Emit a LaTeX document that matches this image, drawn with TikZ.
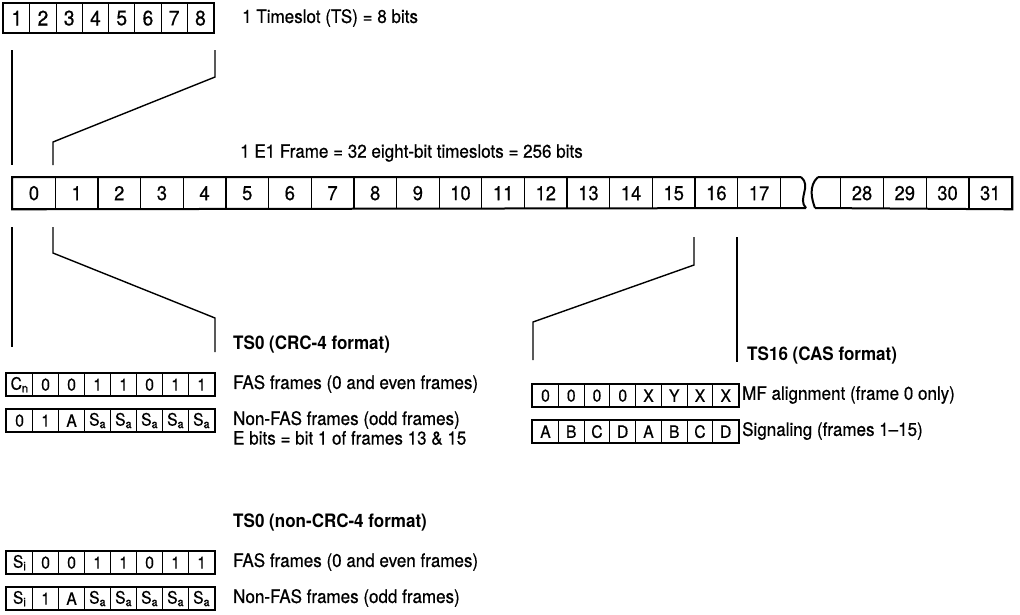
\documentclass[tikz,border=0pt]{standalone}
\usepackage{fontspec}
\setmainfont{TeX Gyre Heros}[FakeStretch=0.92,UprightFeatures={FakeBold=0.5}]
\begin{document}
\begin{tikzpicture}[x=1pt,y=-1pt,
  conn/.style={line width=1.4pt},
  txt/.style={anchor=west,inner sep=0pt,font=\fontsize{18.5}{20}\selectfont},
  btxt/.style={anchor=west,inner sep=0pt,font=\bfseries\fontsize{18.5}{20}\selectfont},
  regcell/.style={draw,line width=1.2pt,minimum width=26.25pt,minimum height=29pt,inner sep=0pt,anchor=north west,font=\fontsize{21}{21}\selectfont},
  framecell/.style={draw,line width=1.3pt,minimum width=42.65pt,minimum height=31pt,inner sep=0pt,anchor=north west,font=\fontsize{20}{20}\selectfont},
  framecellb/.style={framecell,minimum width=42.75pt},
  bitcell/.style={draw,line width=1.2pt,minimum width=26pt,minimum height=22pt,inner sep=0pt,anchor=north west,font=\fontsize{17}{17}\selectfont},
  bitcellr/.style={bitcell,minimum width=25.75pt},
  outer/.style={line width=2.4pt},
  outerf/.style={line width=2pt}]
\useasboundingbox (0,0) rectangle (1020,614);

% top register
\foreach \i in {1,...,8}
  \node[regcell] (t\i) at ({3+(\i-1)*26.25},3) {\i};
\draw[outer] (t1.north west) rectangle (t8.south east);
\node[txt] (tsl) at (242,18) {1 Timeslot (TS) = 8 bits};

% connectors from register to frame
\coordinate (a1) at (12,50);
\coordinate (a2) at (12,165);
\coordinate (b1) at (215,50);
\coordinate (b2) at (215,77);
\coordinate (b3) at (53,142);
\coordinate (b4) at (53,165);
\draw[conn] (a1) -- (a2);
\draw[conn] (b1) -- (b2) -- (b3) -- (b4);

\node[txt] (e1) at (240,153) {1 E1 Frame = 32 eight-bit timeslots = 256 bits};

% frame
\foreach \i in {0,...,17}
  \node[framecell] (f\i) at ({12+\i*42.65},177) {\i};
\foreach \i in {28,...,31}
  \node[framecellb] (f\i) at ({840+(\i-28)*42.75},177) {\i};
\coordinate (w1t) at (801,177);
\coordinate (w1b) at (806,208);
\coordinate (w2t) at (818,177);
\coordinate (w2b) at (815,208);
\draw[outerf] (w1t) -- (f0.north west) -- (f0.south west) -- (w1b);
\draw[outerf] (w1t) .. controls (812,186) and (797,199) .. (w1b);
\draw[outerf] (w2t) .. controls (808,186) and (812,200) .. (w2b);
\draw[outerf] (w2t) -- (f31.north east) -- (f31.south east) -- (w2b);

% connectors from frame to TS0
\coordinate (c1) at (12,227);
\coordinate (c2) at (12,347);
\coordinate (d1) at (53,227);
\coordinate (d2) at (53,253);
\coordinate (d3) at (215,318);
\coordinate (d4) at (215,352);
\draw[conn] (c1) -- (c2);
\draw[conn] (d1) -- (d2) -- (d3) -- (d4);

% connectors from frame to TS16
\coordinate (e1a) at (694,237);
\coordinate (e1b) at (694,265);
\coordinate (e1c) at (533,322);
\coordinate (e1d) at (533,360);
\coordinate (g1) at (737,237);
\coordinate (g2) at (737,362);
\draw[conn] (e1a) -- (e1b) -- (e1c) -- (e1d);
\draw[conn] (g1) -- (g2);

% TS0 CRC-4
\node[btxt] (h1) at (233,344) {TS0 (CRC-4 format)};
\foreach \v [count=\i] in {C\textsubscript{n},0,0,1,1,0,1,1}
  \node[bitcell] (p\i) at ({6+(\i-1)*26},373) {\v};
\draw[outer] (p1.north west) rectangle (p8.south east);
\node[txt] (fas1) at (233,384) {FAS frames (0 and even frames)};

\foreach \v [count=\i] in {0,1,A,S\textsubscript{a},S\textsubscript{a},S\textsubscript{a},S\textsubscript{a},S\textsubscript{a}}
  \node[bitcell] (q\i) at ({6+(\i-1)*26},409) {\v};
\draw[outer] (q1.north west) rectangle (q8.south east);
\node[txt] (nfas1) at (233,420) {Non-FAS frames (odd frames)};
\node[txt] (ebits) at (233,438) {E bits = bit 1 of frames 13 \& 15};

% TS0 non-CRC-4
\node[btxt] (h2) at (233,522) {TS0 (non-CRC-4 format)};
\foreach \v [count=\i] in {S\textsubscript{i},0,0,1,1,0,1,1}
  \node[bitcell] (r\i) at ({6+(\i-1)*26},551) {\v};
\draw[outer] (r1.north west) rectangle (r8.south east);
\node[txt] (fas2) at (233,562) {FAS frames (0 and even frames)};

\foreach \v [count=\i] in {S\textsubscript{i},1,A,S\textsubscript{a},S\textsubscript{a},S\textsubscript{a},S\textsubscript{a},S\textsubscript{a}}
  \node[bitcell] (s\i) at ({6+(\i-1)*26},587) {\v};
\draw[outer] (s1.north west) rectangle (s8.south east);
\node[txt] (nfas2) at (233,598) {Non-FAS frames (odd frames)};

% TS16 CAS
\node[btxt] (h3) at (747,355) {TS16 (CAS format)};
\foreach \v [count=\i] in {0,0,0,0,X,Y,X,X}
  \node[bitcellr] (m\i) at ({532+(\i-1)*25.75},384) {\v};
\draw[outer] (m1.north west) rectangle (m8.south east);
\node[txt] (mf) at (742,395) {MF alignment (frame 0 only)};

\foreach \v [count=\i] in {A,B,C,D,A,B,C,D}
  \node[bitcellr] (n\i) at ({532+(\i-1)*25.75},420) {\v};
\draw[outer] (n1.north west) rectangle (n8.south east);
\node[txt] (sig) at (742,431) {Signaling (frames 1--15)};
\end{tikzpicture}
\end{document}
